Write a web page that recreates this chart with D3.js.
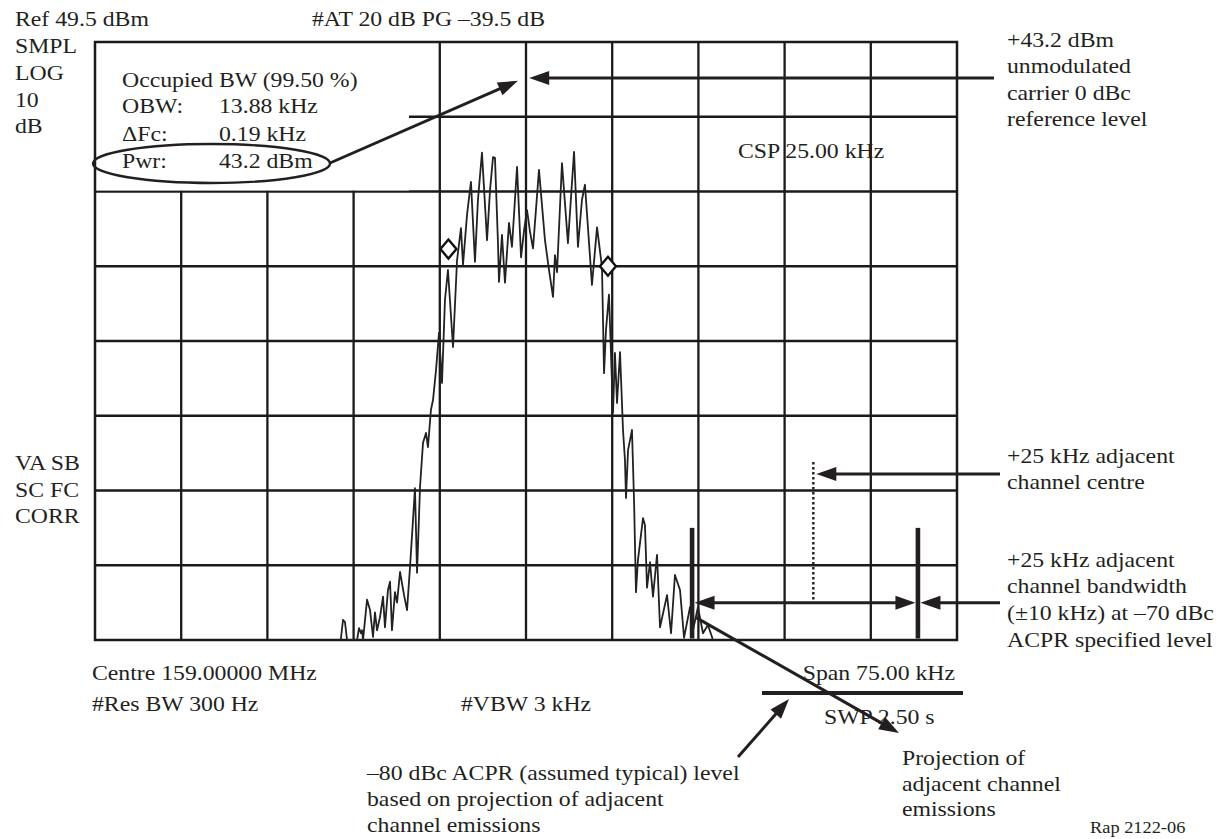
<!DOCTYPE html>
<html><head><meta charset="utf-8">
<script src="https://cdn.jsdelivr.net/npm/d3@7"></script>
<style>
html,body{margin:0;padding:0;background:#fff;}
svg{display:block;}
text{font-family:"Liberation Serif","Times New Roman",Times,serif;font-size:22px;fill:#231f20;}
</style></head><body>
<svg id="c" width="1226" height="839"></svg>
<script>
// ---------- data (frequency offset in kHz from 159 MHz, level in dBm) ----------
const freqKHz = [-16.12,-15.92,-15.75,-15.57,-14.70,-14.53,-14.36,-14.27,-14.18,-13.83,
 -13.57,-13.31,-13.14,-12.96,-12.70,-12.44,-12.27,-12.01,-11.83,-11.66,
 -11.40,-11.22,-10.96,-10.61,-10.35,-10.09,-9.83,-9.66,-9.48,-9.22,
 -8.96,-8.70,-8.53,-8.27,-8.09,-7.83,-7.57,-7.31,-7.05,-6.79,
 -6.35,-6.00,-5.66,-5.48,-5.13,-4.79,-4.44,-4.18,-3.83,-3.39,
 -3.13,-2.87,-2.70,-2.44,-2.35,-2.09,-1.83,-1.48,-1.22,-0.78,
 -0.43,-0.17,0.09,0.35,0.61,1.13,1.65,2.00,2.35,2.52,
 2.70,3.13,3.65,4.18,4.52,4.87,5.13,5.74,6.18,6.61,
 6.79,6.96,7.22,7.57,7.74,7.92,8.18,8.44,8.61,8.70,
 8.88,9.22,9.40,9.57,9.74,10.18,10.35,10.53,10.79,11.05,
 11.40,11.66,12.27,12.62,12.96,13.40,13.75,14.27,14.53,14.96,
 15.40,15.83,16.27];
const levelDBm = [-30.5,-27.8,-28.1,-30.5,-30.5,-28.9,-29.6,-29.2,-30.5,-25.1,
 -26.5,-30.1,-26.8,-29.2,-27.4,-24.7,-28.8,-23.8,-22.7,-29.2,
 -24.1,-25.5,-21.4,-24.5,-26.5,-20.7,-14.4,-10.2,-21.5,-10.0,
 -4.1,-2.8,-4.7,0.3,1.6,5.6,10.6,3.9,15.0,19.0,
 8.7,20.3,24.6,19.7,26.4,30.8,20.1,28.4,34.7,23.0,
 29.7,34.1,34.0,22.7,17.4,23.7,17.3,25.3,22.1,32.8,
 20.7,24.3,27.0,24.1,21.9,32.4,23.0,19.0,15.4,21.0,
 18.7,33.3,22.6,34.8,22.1,28.4,30.4,17.0,24.7,19.4,
 5.2,11.0,15.7,-0.1,7.9,1.2,8.0,-2.4,-6.4,-11.5,
 -5.1,-2.4,-11.8,-24.1,-19.8,-14.2,-15.1,-23.5,-20.1,-24.7,
 -19.1,-28.8,-24.5,-29.6,-21.8,-23.8,-30.2,-26.1,-29.2,-26.1,
 -29.6,-28.5,-30.5];
const obwMarkerFreq = [-6.75, 7.13];
const obwMarkerLevel = [21.8, 19.5];
const xGridKHz = [-37.5,-30,-22.5,-15,-7.5,0,7.5,15,22.5,30,37.5];
const yGridDBm = [49.5,39.5,29.5,19.5,9.5,-0.5,-10.5,-20.5,-30.5];
const carrierOffsetKHz = 0.19;
const refLevelDBm = 44.7;
const obwArrowTip = [-0.7, 44.3];
const adjCentreKHz = 25;
const adjCentreSpan = [-6.7, -25.5];
const adjCentreArrowLevel = -8.3;
const adjBandEdgesKHz = [14.45, 34.1];
const adjBarSpan = [-15.5, -30.3];
const adjBandLevel = -25.5;
const projectionStart = [14.8, -27.5];

const leftInfo = ["Ref 49.5 dBm","SMPL","LOG","10","dB"];
const leftInfo2 = ["VA SB","SC FC","CORR"];
const topInfo = "#AT 20 dB PG \u201339.5 dB";
const obwTitle = "Occupied BW (99.50 %)";
const obwLabels = ["OBW:","\u0394Fc:","Pwr:"];
const obwValues = ["13.88 kHz","0.19 kHz","43.2 dBm"];
const cspLabel = "CSP 25.00 kHz";
const noteRef = ["+43.2 dBm","unmodulated","carrier 0 dBc","reference level"];
const noteCentre = ["+25 kHz adjacent","channel centre"];
const noteBand = ["+25 kHz adjacent","channel bandwidth","(\u00b110 kHz) at \u201370 dBc","ACPR specified level"];
const noteLow = ["\u201380 dBc ACPR (assumed typical) level","based on projection of adjacent","channel emissions"];
const noteProj = ["Projection of","adjacent channel","emissions"];
const bottomInfo = {centre:"Centre 159.00000 MHz", res:"#Res BW 300 Hz", vbw:"#VBW 3 kHz", span:"Span 75.00 kHz", swp:"SWP 2.50 s"};
const figId = "Rap 2122-06";

// ---------- drawing ----------
const svg = d3.select("#c");
svg.append("rect").attr("width",1226).attr("height",839).attr("fill","#fff");
const ink = "#231f20";
const L = 95, R = 957, T = 42, B = 640;
const x = d3.scaleLinear().domain([-37.5, 37.5]).range([L, R]);
const y = d3.scaleLinear().domain([-30.5, 49.5]).range([B, T]);

const grid = svg.append("g").attr("stroke", "#1a1a1a").attr("stroke-width", 2.3);
grid.selectAll("line.v").data(xGridKHz.slice(1,-1)).join("line")
  .attr("x1", d => x(d)).attr("x2", d => x(d)).attr("y1", T).attr("y2", B);
grid.selectAll("line.h").data(yGridDBm.slice(1,-1)).join("line")
  .attr("x1", L).attr("x2", R).attr("y1", d => y(d)).attr("y2", d => y(d));
// white info box hides grid in the upper left
svg.append("rect").attr("x", L+1).attr("y", T+1).attr("width", 313).attr("height", y(29.5)-T-2).attr("fill","#fff");
svg.append("rect").attr("x", L).attr("y", T).attr("width", R-L).attr("height", B-T)
  .attr("fill","none").attr("stroke","#1a1a1a").attr("stroke-width",2.5);

// trace
svg.append("clipPath").attr("id","clip").append("rect").attr("x",L).attr("y",T).attr("width",R-L).attr("height",B-T);
const pts = freqKHz.map((f,i)=>[f, levelDBm[i]]);
svg.append("path").datum(pts).attr("clip-path","url(#clip)")
  .attr("d", d3.line().x(d=>x(d[0])).y(d=>y(d[1])))
  .attr("fill","none").attr("stroke","#222").attr("stroke-width",1.8).attr("stroke-linejoin","round");

// OBW markers
svg.selectAll("path.dia").data(obwMarkerFreq).join("path")
  .attr("d", (d,i)=>{const cx=x(d), cy=y(obwMarkerLevel[i]); return `M${cx},${cy-9.5}L${cx+8},${cy}L${cx},${cy+9.5}L${cx-8},${cy}Z`;})
  .attr("fill","#fff").attr("stroke","#111").attr("stroke-width",2.4);

// helpers
const SX = 1.08;
function textLines(lines, x0, baselines, opts={}) {
  lines.forEach((t,i)=>{
    svg.append("text").attr("transform",`translate(${x0},${baselines[i]}) scale(${SX},1)`)
      .attr("text-anchor", opts.anchor||"start").style("font-size", (opts.size||22)+"px").text(t);
  });
}
const ann = svg.append("g");
function arrowHead(x1,y1,x2,y2){
  const Lh=20, W=7, dx=x2-x1, dy=y2-y1, len=Math.hypot(dx,dy), ux=dx/len, uy=dy/len;
  const bx=x2-ux*Lh, by=y2-uy*Lh;
  ann.append("path").attr("d",`M${x2},${y2}L${bx-uy*W},${by+ux*W}L${bx+uy*W},${by-ux*W}Z`).attr("fill",ink);
  return [bx+ux*3, by+uy*3];
}
function arrow(x1,y1,x2,y2,w=3){
  const [bx,by]=arrowHead(x1,y1,x2,y2);
  ann.append("line").attr("x1",x1).attr("y1",y1).attr("x2",bx).attr("y2",by).attr("stroke",ink).attr("stroke-width",w);
}
function dblArrow(x1,y1,x2,y2,w=3){
  const [ax,ay]=arrowHead(x2,y2,x1,y1);
  const [bx,by]=arrowHead(x1,y1,x2,y2);
  ann.append("line").attr("x1",ax).attr("y1",ay).attr("x2",bx).attr("y2",by).attr("stroke",ink).attr("stroke-width",w);
}

// text: top-left info
textLines(leftInfo, 15, [26,53,80,107,133]);
textLines([topInfo], 312, [26]);
textLines(leftInfo2, 15, [470,497,523]);
textLines([obwTitle], 122, [87]);
textLines(obwLabels, 122, [113,141,168]);
textLines(obwValues, 219, [113,141,168]);
textLines([cspLabel], 738, [158]);

// ellipse around Pwr
ann.append("ellipse").attr("cx",211.5).attr("cy",163.5).attr("rx",118.5).attr("ry",19.5)
  .attr("fill","none").attr("stroke",ink).attr("stroke-width",2.4);
arrow(330,163, x(obwArrowTip[0]), y(obwArrowTip[1]));

// reference level arrow
arrow(994, y(refLevelDBm), x(carrierOffsetKHz)+1, y(refLevelDBm));
textLines(noteRef, 1007, [47,73,100,126]);

// adjacent channel centre
ann.append("line").attr("x1",x(adjCentreKHz)).attr("x2",x(adjCentreKHz))
  .attr("y1",y(adjCentreSpan[0])).attr("y2",y(adjCentreSpan[1]))
  .attr("stroke",ink).attr("stroke-width",2.4).attr("stroke-dasharray","2.5,2.5");
arrow(1000, y(adjCentreArrowLevel), x(adjCentreKHz)+3, y(adjCentreArrowLevel));
textLines(noteCentre, 1007, [463,489]);

// adjacent channel bandwidth bars
ann.selectAll("line.bar").data(adjBandEdgesKHz).join("line")
  .attr("x1",d=>x(d)).attr("x2",d=>x(d)).attr("y1",y(adjBarSpan[0])).attr("y2",y(adjBarSpan[1]))
  .attr("stroke",ink).attr("stroke-width",4.6);
dblArrow(x(adjBandEdgesKHz[0])+2.5, y(adjBandLevel), x(adjBandEdgesKHz[1])-2.5, y(adjBandLevel));
arrow(1000, y(adjBandLevel), x(adjBandEdgesKHz[1])+2.5, y(adjBandLevel));
textLines(noteBand, 1007, [567,593,620,647]);

// bottom info
textLines([bottomInfo.centre], 92, [680]);
textLines([bottomInfo.res], 92, [711]);
textLines([bottomInfo.vbw], 461, [711]);
textLines([bottomInfo.span], 955, [680], {anchor:"end"});
textLines([bottomInfo.swp], 824, [724]);

// -80 dBc level line and arrow
ann.append("line").attr("x1",762).attr("x2",963).attr("y1",693).attr("y2",693).attr("stroke",ink).attr("stroke-width",4);
arrow(738,757, 789,699);
textLines(noteLow, 367, [780,806,832]);

// projection arrow
arrow(x(projectionStart[0]), y(projectionStart[1]), 899, 733);
textLines(noteProj, 902, [765,791,816]);

textLines([figId], 1090, [833], {size:17});
</script>
</body></html>
